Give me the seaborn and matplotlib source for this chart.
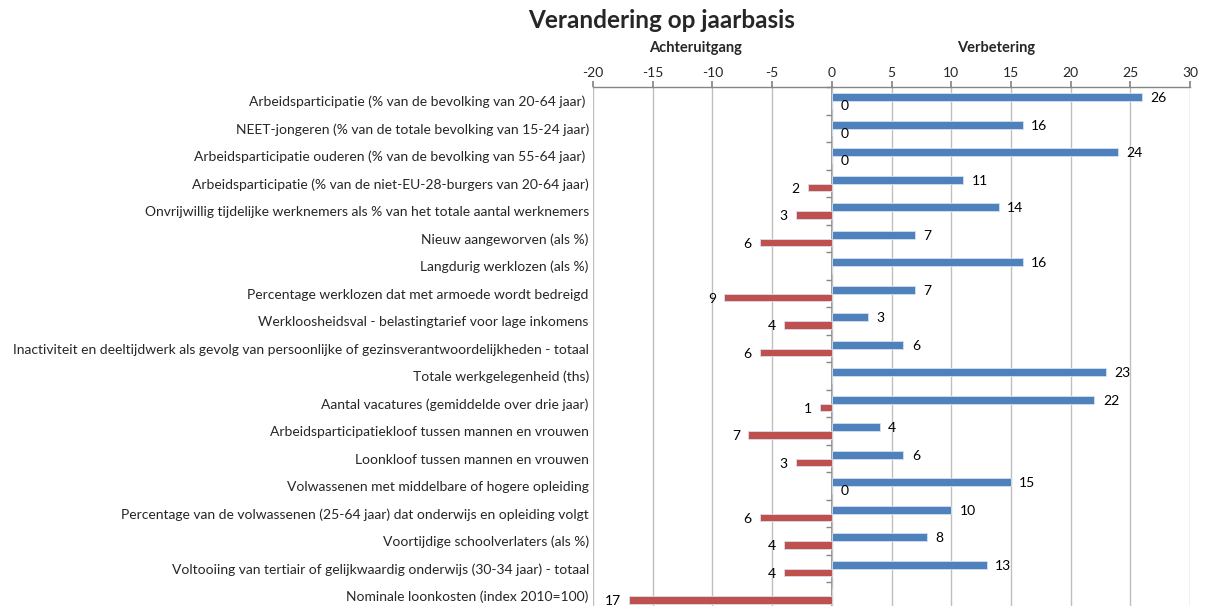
import numpy as np
import pandas as pd
import matplotlib
matplotlib.use("Agg")
import matplotlib.pyplot as plt
import seaborn as sns

categories = [
    "Arbeidsparticipatie (% van de bevolking van 20-64 jaar) ",
    "NEET-jongeren (% van de totale bevolking van 15-24 jaar)",
    "Arbeidsparticipatie ouderen (% van de bevolking van 55-64 jaar) ",
    "Arbeidsparticipatie (% van de niet-EU-28-burgers van 20-64 jaar)",
    "Onvrijwillig tijdelijke werknemers als % van het totale aantal werknemers",
    "Nieuw aangeworven (als %)",
    "Langdurig werklozen (als %)",
    "Percentage werklozen dat met armoede wordt bedreigd",
    "Werkloosheidsval - belastingtarief voor lage inkomens",
    "Inactiviteit en deeltijdwerk als gevolg van persoonlijke of gezinsverantwoordelijkheden - totaal",
    "Totale werkgelegenheid (ths)",
    "Aantal vacatures (gemiddelde over drie jaar)",
    "Arbeidsparticipatiekloof tussen mannen en vrouwen",
    "Loonkloof tussen mannen en vrouwen",
    "Volwassenen met middelbare of hogere opleiding",
    "Percentage van de volwassenen (25-64 jaar) dat onderwijs en opleiding volgt",
    "Voortijdige schoolverlaters (als %)",
    "Voltooiing van tertiair of gelijkwaardig onderwijs (30-34 jaar) - totaal",
    "Nominale loonkosten (index 2010=100)",
]
verbetering = [26, 16, 24, 11, 14, 7, 16, 7, 3, 6, 23, 22, 4, 6, 15, 10, 8, 13, np.nan]
achteruitgang = [0, 0, 0, -2, -3, -6, np.nan, -9, -4, -6, np.nan, -1, -7, -3, 0, -6, -4, -4, -17]
series = ["Verbetering", "Achteruitgang"]
x_ticks = [-20, -15, -10, -5, 0, 5, 10, 15, 20, 25, 30]

df = pd.DataFrame({
    "categorie": categories * 2,
    "serie": [series[0]] * len(categories) + [series[1]] * len(categories),
    "waarde": list(verbetering) + list(achteruitgang),
})
df["plot"] = df["waarde"].fillna(0)

sns.set_theme(style="white")
plt.rcParams["font.family"] = ["Lato", "DejaVu Sans"]

fig = plt.figure(figsize=(12.09, 6.06), dpi=100)
ax = fig.add_axes([593 / 1209, -3.75 / 606, 597 / 1209, 522.5 / 606])

sns.barplot(data=df, x="plot", y="categorie", hue="serie", hue_order=series,
            palette={"Verbetering": "#4F81BD", "Achteruitgang": "#C0504D"},
            orient="h", width=0.58, saturation=1, dodge=True,
            edgecolor="#D5E0EE", linewidth=0.6, legend=False, ax=ax)

for cont, vals in zip(ax.containers, [verbetering, achteruitgang]):
    labels = ["" if np.isnan(v) else f"{abs(v):.0f}" for v in vals]
    texts = ax.bar_label(cont, labels=labels, padding=6, fontsize=10, color="black")
    for t in texts:
        xy = t.xyann
        t.xyann = (xy[0], xy[1] - 1)

ax.set_xlim(-20, 30)
ax.set_ylim(len(categories) - 0.5, -0.5)
ax.set_xticks(x_ticks)
ax.set_xticklabels([str(t) for t in x_ticks], fontsize=10)
ax.xaxis.tick_top()
ax.tick_params(axis="x", length=4, color="#868686", pad=2, top=True, bottom=False)
ax.tick_params(axis="y", length=0, pad=3, labelsize=10)
ax.set_xlabel("")
ax.set_ylabel("")
ax.grid(axis="x", color="#BFBFBF", linewidth=1)
ax.grid(axis="y", visible=False)
for s in ["left", "right", "bottom"]:
    ax.spines[s].set_visible(False)
ax.spines["top"].set_color("#868686")
ax.spines["top"].set_linewidth(1)

# vertical category axis at x = 0
sec = ax.secondary_yaxis(20 / 50)
sec.set_yticks(np.arange(-0.5, len(categories), 1))
sec.set_yticklabels([])
sec.tick_params(length=4, color="#868686", width=1)
sec.spines["left"].set_color("#868686")

fig.text(662 / 1209, 1 - 21 / 606, "Verandering op jaarbasis", ha="center", va="center",
         fontsize=17.5, fontweight="bold")
fig.text(696 / 1209, 1 - 48 / 606, "Achteruitgang", ha="center", va="center",
         fontsize=10.5, fontweight="bold")
fig.text(996 / 1209, 1 - 48 / 606, "Verbetering", ha="center", va="center",
         fontsize=10.5, fontweight="bold")

fig.savefig("out.png", dpi=100)
